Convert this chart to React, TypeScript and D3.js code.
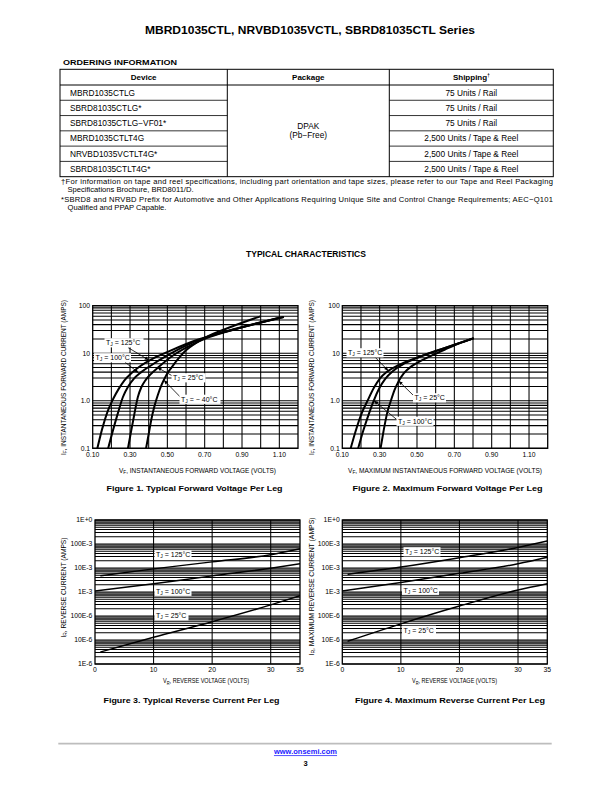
import React from 'react';
import * as d3 from 'd3';

type Pt = [number, number];

const SANS = "'Liberation Sans', Arial, Helvetica, sans-serif";
const NARROW = "'Liberation Sans Narrow', 'Liberation Sans', Arial, sans-serif";

// ---- page text ----
const pageTitle = 'MBRD1035CTL, NRVBD1035VCTL, SBRD81035CTL Series';
const orderingTitle = 'ORDERING INFORMATION';
const tableHeaders = ['Device', 'Package', 'Shipping'];
const devices = [
  'MBRD1035CTLG',
  'SBRD81035CTLG*',
  'SBRD81035CTLG\u2212VF01*',
  'MBRD1035CTLT4G',
  'NRVBD1035VCTLT4G*',
  'SBRD81035CTLT4G*',
];
const shipping = [
  '75 Units / Rail',
  '75 Units / Rail',
  '75 Units / Rail',
  '2,500 Units / Tape & Reel',
  '2,500 Units / Tape & Reel',
  '2,500 Units / Tape & Reel',
];
const packageLines = ['DPAK', '(Pb\u2212Free)'];
const footnotes = [
  '\u2020For information on tape and reel specifications, including part orientation and tape sizes, please refer to our Tape and Reel Packaging',
  'Specifications Brochure, BRD8011/D.',
  '*SBRD8 and NRVBD Prefix for Automotive and Other Applications Requiring Unique Site and Control Change Requirements; AEC\u2212Q101',
  'Qualified and PPAP Capable.',
];
const sectionTitle = 'TYPICAL CHARACTERISTICS';

// ---- forward characteristics [V, A] ----
const fig1T125: Pt[] = [[0.125, 0.1], [0.15, 0.25], [0.18, 0.6], [0.21, 1.1], [0.24, 1.8], [0.27, 2.7], [0.31, 3.9], [0.35, 5.2], [0.43, 8.0], [0.52, 11.5], [0.65, 18.5], [0.8, 28], [0.95, 40], [1.12, 58]];
const fig1T100: Pt[] = [[0.183, 0.1], [0.21, 0.25], [0.235, 0.55], [0.262, 1.2], [0.29, 2.0], [0.32, 2.9], [0.36, 4.0], [0.42, 5.8], [0.5, 9.0], [0.6, 14.5], [0.7, 21], [0.9, 35], [1.12, 57]];
const fig1T25: Pt[] = [[0.289, 0.1], [0.305, 0.22], [0.32, 0.45], [0.342, 1.2], [0.36, 1.9], [0.38, 2.6], [0.41, 3.6], [0.45, 5.0], [0.5, 7.3], [0.54, 9.5], [0.63, 15], [0.72, 21.5], [0.9, 35], [1.1, 56]];
const fig1Tm40: Pt[] = [[0.386, 0.1], [0.4, 0.2], [0.415, 0.42], [0.432, 0.8], [0.449, 1.32], [0.47, 2.2], [0.495, 3.5], [0.522, 5.0], [0.56, 7.8], [0.6, 11.5], [0.65, 16], [0.7, 21], [0.85, 37], [0.995, 59]];

const fig2T125: Pt[] = [[0.145, 0.1], [0.17, 0.22], [0.2, 0.5], [0.235, 1.0], [0.27, 1.9], [0.3, 2.9], [0.34, 4.1], [0.4, 5.6], [0.49, 7.8], [0.6, 11], [0.7, 15], [0.8, 20.5]];
const fig2T100: Pt[] = [[0.185, 0.1], [0.21, 0.22], [0.24, 0.5], [0.268, 1.0], [0.3, 1.9], [0.33, 2.9], [0.37, 4.2], [0.42, 5.7], [0.5, 8.0], [0.6, 11.2], [0.7, 15.1], [0.8, 20.5]];
const fig2T25: Pt[] = [[0.305, 0.1], [0.32, 0.22], [0.34, 0.55], [0.36, 1.0], [0.38, 1.7], [0.4, 2.5], [0.43, 3.8], [0.47, 5.3], [0.52, 6.9], [0.58, 9.0], [0.65, 12], [0.72, 15.8], [0.8, 20.3]];

// ---- reverse characteristics ----
const revVolts = [1, 10, 20, 30, 35];
const revVolts0 = [0, 10, 20, 30, 35];
const fig3T125 = [4.8e-3, 9.2e-3, 18e-3, 36e-3, 64e-3];
const fig3T100 = [1.1e-3, 2.2e-3, 4.7e-3, 9.7e-3, 15e-3];
const fig3T25 = [3.2e-6, 13e-6, 58e-6, 290e-6, 700e-6];
const fig4T125 = [5.5e-3, 11e-3, 27e-3, 72e-3, 133e-3];
const fig4T100 = [1.1e-3, 2.5e-3, 6e-3, 15e-3, 28e-3];
const fig4T25 = [9e-6, 47e-6, 260e-6, 1.2e-3, 2.2e-3];

// ---- axis ticks ----
const fwdXGrid = [0.2, 0.3, 0.4, 0.5, 0.6, 0.7, 0.8, 0.9, 1.0, 1.1];
const fwdXTicks = [0.1, 0.3, 0.5, 0.7, 0.9, 1.1];
const fwdYTicks = [0.1, 1, 10, 100];
const fwdYLabels = ['0.1', '1.0', '10', '100'];
const revXGrid = [10, 20, 30];
const revXTicks = [0, 10, 20, 30, 35];
const revYTicks = [1, 0.1, 0.01, 1e-3, 1e-4, 1e-5, 1e-6];
const revYLabels = ['1E+0', '100E-3', '10E-3', '1E-3', '100E-6', '10E-6', '1E-6'];

interface Note { x: number; y: number; w: number; temp: string; tail?: Pt; tip?: Pt }

interface ChartProps {
  id: string;
  left: number; right: number; top: number; bottom: number;
  xDomain: [number, number]; yDomain: [number, number];
  xGrid: number[]; xTicks: number[]; xFmt: (v: number) => string;
  yTicks: number[]; yLabels: string[];
  series: Pt[][]; curveWidth: number;
  notes: Note[];
  xTitle: [string, string, string]; xTitleX: number; xTitleY: number; xTitleLen: number;
  yTitle: [string, string, string]; yTitleX: number; yTitleY: number; yTitleLen: number;
  caption: string; captionX: number; captionY: number;
  tickY: number;
}

function SubText({ parts, big, small }: { parts: [string, string, string]; big: number; small: number }) {
  return (
    <>
      {parts[0]}
      <tspan fontSize={small} dy={1.5}>{parts[1]}</tspan>
      <tspan fontSize={big} dy={-1.5}>{parts[2]}</tspan>
    </>
  );
}

function LogChart(p: ChartProps) {
  const x = d3.scaleLinear().domain(p.xDomain).range([p.left, p.right]);
  const y = d3.scaleLog().domain(p.yDomain).range([p.bottom, p.top]);
  const line = d3.line<Pt>().x(d => x(d[0])).y(d => y(d[1])).curve(d3.curveMonotoneX);
  const hLines = y.ticks();

  return (
    <g>
      <defs>
        <clipPath id={`clip-${p.id}`}>
          <rect x={p.left} y={p.top} width={p.right - p.left} height={p.bottom - p.top} />
        </clipPath>
      </defs>
      {/* grid */}
      {hLines.map((v, i) => (
        <line key={`h${i}`} x1={p.left} x2={p.right} y1={y(v)} y2={y(v)} stroke="#000" strokeWidth={1.05} />
      ))}
      {p.xGrid.map((v, i) => (
        <line key={`v${i}`} x1={x(v)} x2={x(v)} y1={p.top} y2={p.bottom} stroke="#000" strokeWidth={1.05} />
      ))}
      <rect x={p.left} y={p.top} width={p.right - p.left} height={p.bottom - p.top} fill="none" stroke="#000" strokeWidth={1.3} />

      {/* curves */}
      <g clipPath={`url(#clip-${p.id})`}>
        {p.series.map((s, i) => (
          <path key={i} d={line(s) || ''} fill="none" stroke="#000" strokeWidth={p.curveWidth} strokeLinecap="round" />
        ))}
      </g>

      {/* annotations */}
      {p.notes.map((n, i) => (
        <g key={`n${i}`}>
          {n.tail && n.tip && (
            <line x1={x(n.tail[0])} y1={y(n.tail[1])} x2={x(n.tip[0])} y2={y(n.tip[1])}
              stroke="#000" strokeWidth={0.8} markerEnd="url(#arrowHead)" />
          )}
          <rect x={n.x - 1.5} y={n.y - 6.8} width={n.w + 3} height={9.2} fill="#fff" />
          <text x={n.x} y={n.y} fontSize={7} fontFamily={SANS}>
            T<tspan fontSize={5} dy={1.4}>J</tspan><tspan fontSize={7} dy={-1.4}>{` = ${n.temp}\u00b0C`}</tspan>
          </text>
        </g>
      ))}

      {/* tick labels */}
      {p.yTicks.map((v, i) => (
        <text key={`yt${i}`} x={p.left - 2.6} y={y(v) + 2.3} fontSize={6.8} textAnchor="end" fontFamily={NARROW}>
          {p.yLabels[i]}
        </text>
      ))}
      {p.xTicks.map((v, i) => (
        <text key={`xt${i}`} x={x(v)} y={p.tickY} fontSize={6.8} textAnchor="middle" fontFamily={NARROW}>
          {p.xFmt(v)}
        </text>
      ))}

      {/* titles */}
      <text x={p.xTitleX} y={p.xTitleY} fontSize={7.2} textAnchor="middle" fontFamily={NARROW}
        textLength={p.xTitleLen} lengthAdjust="spacingAndGlyphs">
        <SubText parts={p.xTitle} big={7.2} small={5.2} />
      </text>
      <text transform={`translate(${p.yTitleX},${p.yTitleY}) rotate(-90)`} fontSize={7.2} textAnchor="middle"
        fontFamily={NARROW} textLength={p.yTitleLen} lengthAdjust="spacingAndGlyphs">
        <SubText parts={p.yTitle} big={7.2} small={5.2} />
      </text>
      <text x={p.captionX} y={p.captionY} fontSize={8} fontWeight="bold" textAnchor="middle" fontFamily={SANS}
        textLength={p.captionX > 300 ? 190 : 176} lengthAdjust="spacingAndGlyphs">
        {p.caption}
      </text>
    </g>
  );
}

const zip = (xs: number[], ys: number[]): Pt[] => xs.map((v, i) => [v, ys[i]] as Pt);

export default function App() {
  const colX = [60, 227.3, 389.3, 553.3];
  const tableTop = 69.3;
  const headerH = 15.7;
  const rowH = 15.28;
  const rowY = (i: number) => tableTop + headerH + i * rowH;
  const tableBottom = rowY(devices.length);

  const fwdFmt = (v: number) => v.toFixed(2);
  const revFmt = (v: number) => String(v);

  return (
    <svg width={612} height={792} viewBox="0 0 612 792"
      style={{ position: 'absolute', left: 0, top: 0, background: '#fff' }} fontFamily={SANS}>
      <defs>
        <marker id="arrowHead" viewBox="0 0 10 10" refX={10} refY={5} markerUnits="userSpaceOnUse"
          markerWidth={5} markerHeight={4} orient="auto">
          <path d="M0,0.5 L10,5 L0,9.5 z" fill="#000" />
        </marker>
      </defs>
      <rect width={612} height={792} fill="#fff" />

      {/* header */}
      <text x={310} y={34} fontSize={11} fontWeight="bold" textAnchor="middle"
        textLength={330} lengthAdjust="spacingAndGlyphs">{pageTitle}</text>

      {/* ordering information */}
      <text x={63} y={64.5} fontSize={7.5} fontWeight="bold" textLength={114} lengthAdjust="spacingAndGlyphs">
        {orderingTitle}
      </text>
      <rect x={colX[0]} y={tableTop} width={colX[3] - colX[0]} height={tableBottom - tableTop}
        fill="none" stroke="#000" strokeWidth={1} />
      {colX.slice(1, 3).map((cx, i) => (
        <line key={`c${i}`} x1={cx} x2={cx} y1={tableTop} y2={tableBottom} stroke="#000" strokeWidth={1} />
      ))}
      <line x1={colX[0]} x2={colX[3]} y1={rowY(0)} y2={rowY(0)} stroke="#000" strokeWidth={1} />
      {devices.slice(1).map((_, i) => (
        <g key={`r${i}`}>
          <line x1={colX[0]} x2={colX[1]} y1={rowY(i + 1)} y2={rowY(i + 1)} stroke="#000" strokeWidth={0.8} />
          <line x1={colX[2]} x2={colX[3]} y1={rowY(i + 1)} y2={rowY(i + 1)} stroke="#000" strokeWidth={0.8} />
        </g>
      ))}
      {tableHeaders.map((h, i) => (
        <text key={`th${i}`} x={(colX[i] + colX[i + 1]) / 2} y={tableTop + headerH / 2 + 2.9}
          fontSize={8} fontWeight="bold" textAnchor="middle">
          {h}{i === 2 && <tspan fontSize={4.5} dy={-3}>{'\u2020'}</tspan>}
        </text>
      ))}
      {devices.map((d, i) => (
        <text key={`d${i}`} x={70} y={rowY(i) + rowH / 2 + 3} fontSize={8.3}>{d}</text>
      ))}
      {shipping.map((s, i) => (
        <text key={`s${i}`} x={(colX[2] + colX[3]) / 2} y={rowY(i) + rowH / 2 + 3} fontSize={8.3} textAnchor="middle">{s}</text>
      ))}
      {packageLines.map((t, i) => (
        <text key={`p${i}`} x={(colX[1] + colX[2]) / 2} y={129 + i * 9} fontSize={8.3} textAnchor="middle">{t}</text>
      ))}
      <text x={61} y={183.7} fontSize={7.6} textLength={492} lengthAdjust="spacing">{footnotes[0]}</text>
      <text x={67.5} y={192} fontSize={7.6}>{footnotes[1]}</text>
      <text x={61} y={201.7} fontSize={7.6} textLength={492} lengthAdjust="spacing">{footnotes[2]}</text>
      <text x={67.5} y={210.4} fontSize={7.6}>{footnotes[3]}</text>

      <text x={306} y={257} fontSize={8.5} fontWeight="bold" textAnchor="middle">{sectionTitle}</text>

      {/* Figure 1 */}
      <LogChart id="f1" left={92.7} right={298} top={305.7} bottom={448.3}
        xDomain={[0.1, 1.2]} yDomain={[0.1, 100]}
        xGrid={fwdXGrid} xTicks={fwdXTicks} xFmt={fwdFmt}
        yTicks={fwdYTicks} yLabels={fwdYLabels}
        series={[fig1T125, fig1T100, fig1T25, fig1Tm40]} curveWidth={2}
        notes={[
          { x: 106, y: 345, w: 36, temp: '125', tail: [0.289, 13.2], tip: [0.4, 7.2] },
          { x: 95.5, y: 360, w: 34, temp: '100', tail: [0.273, 6.5], tip: [0.345, 3.9] },
          { x: 173, y: 380, w: 31, temp: '25', tail: [0.529, 3.3], tip: [0.447, 5.0] },
          { x: 181, y: 401.5, w: 38, temp: '\u2212 40', tail: [0.572, 1.17], tip: [0.482, 2.7] },
        ]}
        xTitle={['V', 'F', ', INSTANTANEOUS FORWARD VOLTAGE (VOLTS)']} xTitleX={197.5} xTitleY={472.8} xTitleLen={157}
        yTitle={['I', 'F', ', INSTANTANEOUS FORWARD CURRENT (AMPS)']} yTitleX={65.8} yTitleY={377.5} yTitleLen={155}
        caption="Figure 1. Typical Forward Voltage Per Leg" captionX={194.5} captionY={490.8}
        tickY={457}
      />

      {/* Figure 2 */}
      <LogChart id="f2" left={342.3} right={547.7} top={305.7} bottom={448.3}
        xDomain={[0.1, 1.2]} yDomain={[0.1, 100]}
        xGrid={fwdXGrid} xTicks={fwdXTicks} xFmt={fwdFmt}
        yTicks={fwdYTicks} yLabels={fwdYLabels}
        series={[fig2T125, fig2T100, fig2T25]} curveWidth={2}
        notes={[
          { x: 348, y: 355, w: 34, temp: '125', tail: [0.275, 8.3], tip: [0.346, 4.3] },
          { x: 414.5, y: 400, w: 30, temp: '25', tail: [0.484, 1.26], tip: [0.402, 2.6] },
          { x: 398, y: 423.5, w: 34, temp: '100', tail: [0.396, 0.39], tip: [0.27, 1.0] },
        ]}
        xTitle={['V', 'F', ', MAXIMUM INSTANTANEOUS FORWARD VOLTAGE (VOLTS)']} xTitleX={445} xTitleY={472.8} xTitleLen={194}
        yTitle={['I', 'F', ', INSTANTANEOUS FORWARD CURRENT (AMPS)']} yTitleX={313.6} yTitleY={377.5} yTitleLen={155}
        caption="Figure 2. Maximum Forward Voltage Per Leg" captionX={447.5} captionY={490.8}
        tickY={457}
      />

      {/* Figure 3 */}
      <LogChart id="f3" left={95} right={300} top={520} bottom={664}
        xDomain={[0, 35]} yDomain={[1e-6, 1]}
        xGrid={revXGrid} xTicks={revXTicks} xFmt={revFmt}
        yTicks={revYTicks} yLabels={revYLabels}
        series={[zip(revVolts, fig3T125), zip(revVolts0, fig3T100), zip(revVolts, fig3T25)]} curveWidth={1.5}
        notes={[
          { x: 156, y: 557, w: 34, temp: '125' },
          { x: 156, y: 593.5, w: 34, temp: '100' },
          { x: 156, y: 618, w: 31, temp: '25' },
        ]}
        xTitle={['V', 'R', ', REVERSE VOLTAGE (VOLTS)']} xTitleX={206} xTitleY={683.3} xTitleLen={86}
        yTitle={['I', 'R', ', REVERSE CURRENT (AMPS)']} yTitleX={65.8} yTitleY={587.5} yTitleLen={100}
        caption="Figure 3. Typical Reverse Current Per Leg" captionX={191.5} captionY={703.3}
        tickY={671.5}
      />

      {/* Figure 4 */}
      <LogChart id="f4" left={342.3} right={547.3} top={520} bottom={664}
        xDomain={[0, 35]} yDomain={[1e-6, 1]}
        xGrid={revXGrid} xTicks={revXTicks} xFmt={revFmt}
        yTicks={revYTicks} yLabels={revYLabels}
        series={[zip(revVolts, fig4T125), zip(revVolts0, fig4T100), zip(revVolts, fig4T25)]} curveWidth={1.5}
        notes={[
          { x: 405, y: 554, w: 34, temp: '125' },
          { x: 403.5, y: 592.5, w: 34, temp: '100' },
          { x: 403.5, y: 632.5, w: 31, temp: '25' },
        ]}
        xTitle={['V', 'R', ', REVERSE VOLTAGE (VOLTS)']} xTitleX={454.5} xTitleY={683.3} xTitleLen={85}
        yTitle={['I', 'R', ', MAXIMUM REVERSE CURRENT (AMPS)']} yTitleX={313.6} yTitleY={586.5} yTitleLen={138}
        caption="Figure 4. Maximum Reverse Current Per Leg" captionX={450} captionY={703.3}
        tickY={671.5}
      />

      {/* footer */}
      <line x1={58.3} x2={551.7} y1={743.7} y2={743.7} stroke="#bdbdbd" strokeWidth={1.8} />
      <text x={305.5} y={754.3} fontSize={7.5} fontWeight="bold" textAnchor="middle" fill="#1a1aff"
        textDecoration="underline">www.onsemi.com</text>
      <text x={305.5} y={765.5} fontSize={7.5} fontWeight="bold" textAnchor="middle">3</text>
    </svg>
  );
}
